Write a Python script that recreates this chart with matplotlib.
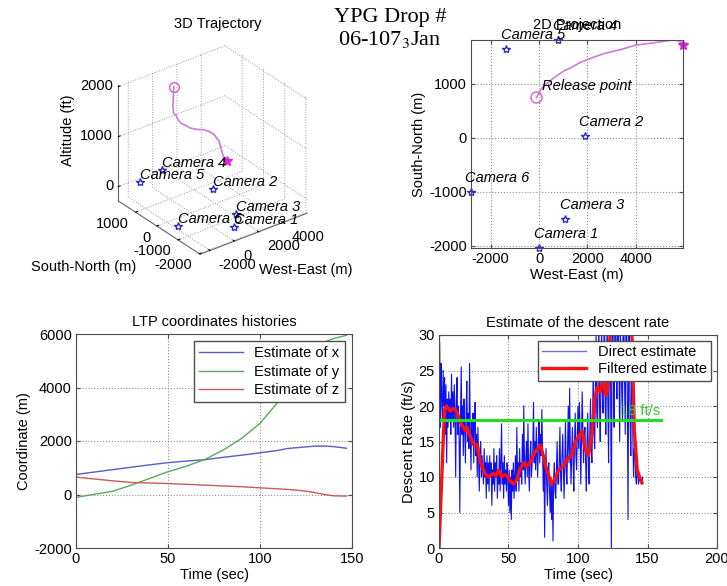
#
# YPG drop 06-107 (3 Jan): trajectory and descent rate summary plot.
# Four panels, laid out the way the old MATLAB figure was.
#

import matplotlib
matplotlib.use('Agg')
import matplotlib.pyplot as plt
import numpy as np


#######################################################################

# LTP coordinate histories (m), read every 10 s or so.
t_ltp = [0, 10, 20, 30, 40, 50, 60, 70, 80, 90, 100, 110, 115, 120,
         125, 130, 135, 140, 147]
x_est = [750, 840, 930, 1020, 1110, 1190, 1250, 1300, 1390, 1470, 1560,
         1650, 1720, 1750, 1780, 1810, 1810, 1790, 1730]
y_est = [-110, 10, 120, 350, 600, 850, 1060, 1310, 1660, 2100, 2660,
         3475, 3975, 4540, 5000, 5450, 5700, 5830, 5950]
z_est = [650, 580, 510, 450, 430, 410, 380, 350, 320, 290, 250, 210,
         190, 160, 125, 70, 0, -50, -60]

# Camera positions (m): West-East, South-North.
cam_names = ['Camera 1', 'Camera 2', 'Camera 3', 'Camera 4',
             'Camera 5', 'Camera 6']
cam_we = [0, 1900, 1077, 787, -1366, -2816]
cam_sn = [-2040, 40, -1500, 1815, 1648, -1000]

# Descent rate (ft/s): direct estimate, two samples per second.
rate_direct = [
    20, 29, 17, 26, 21, 18, 25, 20, 24, 16,
    23, 12, 21, 17, 22, 18, 21, 16, 24.5, 18,
    22, 17, 23, 19, 10, 21, 24, 16, 20, 15,
    5, 19, 25.5, 16, 20, 13, 21, 17, 12, 19,
    23.5, 15, 19, 14, 26, 16, 11, 18, 15, 19,
    12, 17, 20.5, 13, 16, 10, 17, 12, 8, 14,
    15, 10, 13, 11, 9, 14, 10, 12, 7, 13,
    9, 12, 8, 13, 10, 12, 6, 11, 9, 14,
    8, 12, 10, 13, 7, 11, 9, 14, 8, 12,
    17.5, 9, 12, 7, 13, 9, 11, 8, 12, 10,
    6, 11, 5, 10, 4, 11, 8, 12, 7, 10,
    13, 8, 17, 10, 12, 8, 14, 10, 12, 9,
    16, 11, 20, 12, 9, 13, 15, 10, 17.5, 11,
    8, 13, 15, 10, 12, 14, 20.5, 12, 15, 11,
    17, 13, 10, 15, 18, 12, 16, 13, 19.5, 14,
    8, 13, 1.5, 11, 14, 9, 6, 11, 12, 8,
    5, 10, 4, 9, 1, 10, 12, 8, 7, 11,
    15, 9, 9, 12, 17, 10, 8, 13, 16, 11,
    7, 12, 18, 11, 9, 14, 20, 12, 22.5, 13,
    9, 14, 17, 12, 8, 15, 19, 13, 11, 16,
    20, 14, 20.5, 16, 9, 15, 22, 17, 12, 16,
    17, 12, 8, 15, 19, 13, 9, 16, 21, 14,
    12, 18, 26, 16, 14, 22, 30, 19, 17, 25,
    32, 20, 15, 24, 31, 22, 19, 26, 34, 21,
    16, 24, 33, 20, 12, 27, 31, 22, 0, 30,
    35, 24, 17, 32, 34, 26, 21, 33, 33, 25,
    15, 30, 28, 22, 18, 34, 31, 24, 16, 33,
    32, 20, 4, 30, 30, 18, 13, 24, 24, 15,
    10, 14, 14, 10, 9, 11, 11, 9, 9.5, 10,
    10, 9, 9, 10]
t_direct = np.arange(len(rate_direct)) * 0.5

# Filtered descent rate (ft/s).
filt_t = [0, 1, 2, 3, 4, 5.5, 8, 10, 11.5, 13, 16, 19, 20, 22, 25, 27,
          30, 33, 35.5, 39, 41, 43, 45, 47, 49, 51, 53.5, 56, 58, 61,
          63, 65.5, 69, 73, 75, 77.5, 81, 83.5, 86, 89.5, 92, 95.5, 98,
          100, 103, 105, 107.5, 110, 112, 114, 116, 118, 120, 121.5,
          123, 124, 128, 133, 137, 139, 140.5, 142.6, 145, 146]
filt_v = [0, 5, 10, 15, 19.5, 20, 19.3, 19.6, 19.6, 19, 17.5, 16.5, 17,
          16, 14.5, 14.6, 12, 10.5, 10, 10.5, 10.2, 11, 10, 10.3, 10.2,
          9.5, 9, 9.6, 11, 12, 11.5, 12, 13.5, 14.5, 13, 11, 9, 9.8, 11,
          11.5, 12.5, 13, 15, 15.5, 16.5, 14, 13, 16, 21, 22.7, 22, 23.5,
          21.5, 22.5, 30, 38, 45, 42, 36, 29, 16.6, 11, 9.6, 9.2]

target_rate = 18

# Tick values.
we_ticks = [-2000, 0, 2000, 4000]
sn_ticks = [-2000, -1000, 0, 1000]
alt_ticks = [0, 1000, 2000]


#######################################################################

plt.rcParams['font.family'] = 'Liberation Sans'
plt.rcParams['font.size'] = 10.5
plt.rcParams['axes.unicode_minus'] = False
plt.rcParams['grid.linestyle'] = ':'
plt.rcParams['grid.color'] = '0.55'
plt.rcParams['grid.linewidth'] = 0.8
plt.rcParams['xtick.direction'] = 'in'
plt.rcParams['ytick.direction'] = 'in'
plt.rcParams['xtick.top'] = True
plt.rcParams['ytick.right'] = True
plt.rcParams['axes.edgecolor'] = '0.3'
plt.rcParams['axes.linewidth'] = 0.8

W, H = 727, 586
fig = plt.figure(figsize=(W / 100, H / 100), dpi=100)


def rect(left, top, right, bottom):
    # axes rectangle from pixel edges
    return [left / W, 1 - bottom / H, (right - left) / W, (bottom - top) / H]


def matlab_look(ax):
    ax.grid(True)
    ax.tick_params(length=3, pad=3, color='0.3')
    ax.set_axisbelow(True)


# Altitude in ft above the drop zone.
alt_ft = np.array(z_est) * 3.28 - 90

#######################################################################
# 3D trajectory

ax3 = fig.add_axes(rect(77, 39, 342, 265), projection='3d')
ax3.set_proj_type('ortho')
ax3.view_init(elev=30, azim=-127.5)
ax3.set_box_aspect((1, 1, 1))

ax3.plot(y_est, x_est, alt_ft, color='#d27ad6', lw=1.2)
ax3.plot([y_est[0]], [x_est[0]], [alt_ft[0]], 'o', mfc='none',
         mec='#d060d0', ms=7)
ax3.plot([y_est[-1]], [x_est[-1]], [alt_ft[-1]], '*', color='#e020e0', ms=7)
ax3.plot(cam_we, cam_sn, np.zeros(len(cam_we)), '*', mfc='none',
         mec='#3030c0', ms=6, ls='none')
for name, cx, cy in zip(cam_names, cam_we, cam_sn):
    ax3.text(cx, cy, 0, name, style='italic', ha='left', va='bottom',
             fontsize=10.5)

x0, x1 = min(cam_we), max(y_est)
y0, y1 = min(cam_sn), max(cam_sn)
z0, z1 = alt_ft.min(), alt_ft.max()
ax3.set_xlim(x0, x1)
ax3.set_ylim(y0, y1)
ax3.set_zlim(z0, z1)
ax3.set_xticks(we_ticks)
ax3.set_yticks(sn_ticks)
ax3.set_zticks(alt_ticks)
for axis in (ax3.xaxis, ax3.yaxis, ax3.zaxis):
    axis.set_pane_color((1, 1, 1, 0))
    axis.line.set_color('0.4')
    axis._axinfo['grid'].update(color='0.6', linestyle=':', linewidth=0.7)
    axis._axinfo['tick'].update(inward_factor=0.0, outward_factor=0.2)
    axis.set_major_formatter(plt.NullFormatter())
    axis.set_tick_params(labelbottom=False)

# MATLAB style tick labels, set just off the box edges.
for v in we_ticks:
    ax3.text(v, y0 - 400, z0 - 40, str(v), ha='left', va='top')
for v in sn_ticks:
    ax3.text(x0 - 550, v, z0 - 40, str(v), ha='right', va='top')
for v in alt_ticks:
    ax3.text(x0 - 250, y1 + 100, v, str(v), ha='right', va='center')

fig.text(218 / W, 1 - 24 / H, '3D Trajectory', ha='center', va='center')
fig.text(68 / W, 1 - 130 / H, 'Altitude (ft)', ha='center', va='center',
         rotation=90)
fig.text(84 / W, 1 - 267 / H, 'South-North (m)', ha='center', va='center')
fig.text(306 / W, 1 - 270 / H, 'West-East (m)', ha='center', va='center')

#######################################################################
# 2D projection

ax2 = fig.add_axes(rect(471, 40, 683, 248))
matlab_look(ax2)
ax2.plot(y_est, x_est, color='#d27ad6', lw=1.2)
ax2.plot(y_est[0], x_est[0], 'o', mfc='none', mec='#d060d0', ms=8)
ax2.plot(y_est[-1], x_est[-1], '*', color='#e020e0', ms=7, clip_on=False)
ax2.plot(cam_we, cam_sn, '*', mfc='none', mec='#3030c0', ms=6, ls='none',
         clip_on=False)
for name, cx, cy in zip(cam_names, cam_we, cam_sn):
    ax2.annotate(name, (cx, cy), xytext=(-4, 5), textcoords='offset points',
                 style='italic', ha='left', va='bottom',
                 annotation_clip=False)
ax2.annotate('Release point', (y_est[0], x_est[0]), xytext=(4, 3),
             textcoords='offset points', style='italic', ha='left',
             va='bottom')
ax2.set_xlim(min(cam_we), max(y_est))
ax2.set_ylim(min(cam_sn), max(cam_sn))
ax2.set_xticks(we_ticks)
ax2.set_yticks(sn_ticks)
ax2.set_xlabel('West-East (m)', labelpad=1)
ax2.set_ylabel('South-North (m)', labelpad=2)
ax2.set_title('2D Projection', fontsize=10.5, pad=8)

#######################################################################
# LTP coordinate histories

ax4 = fig.add_axes(rect(76, 334, 352, 548))
matlab_look(ax4)
ax4.plot(t_ltp, x_est, color='#5a5ac8', lw=1, label='Estimate of x')
ax4.plot(t_ltp, y_est, color='#5aa85a', lw=1, label='Estimate of y')
ax4.plot(t_ltp, z_est, color='#c85a5a', lw=1, label='Estimate of z')
ax4.set_xlim(0, 150)
ax4.set_ylim(-2000, 6000)
ax4.set_xticks([0, 50, 100, 150])
ax4.set_yticks([-2000, 0, 2000, 4000, 6000])
ax4.set_xlabel('Time (sec)', labelpad=1)
ax4.set_ylabel('Coordinate (m)', labelpad=2)
ax4.set_title('LTP coordinates histories', fontsize=10.5, pad=6)
ax4.legend(loc='upper right', fancybox=False, edgecolor='0.3',
           framealpha=1, handlelength=3.0, borderaxespad=0.5,
           labelspacing=0.3, borderpad=0.35)

#######################################################################
# Descent rate

ax5 = fig.add_axes(rect(439, 335, 717, 548))
matlab_look(ax5)
ax5.plot(t_direct, rate_direct, color='#1010f0', lw=0.8,
         label='Direct estimate')
ax5.plot(filt_t, filt_v, color='#ff1010', lw=2.4, label='Filtered estimate')
ax5.plot([0, 160], [target_rate, target_rate], color='#22dd22', lw=2.2)
ax5.text(145, target_rate + 0.3, '18 ft/s', color='#33cc33', ha='center',
         va='bottom')
ax5.set_xlim(0, 200)
ax5.set_ylim(0, 30)
ax5.set_xticks([0, 50, 100, 150, 200])
ax5.set_yticks([0, 5, 10, 15, 20, 25, 30])
ax5.set_xlabel('Time (sec)', labelpad=1)
ax5.set_ylabel('Descent Rate (ft/s)', labelpad=2)
ax5.set_title('Estimate of the descent rate', fontsize=10.5, pad=6)
leg = ax5.legend(loc='upper right', fancybox=False, edgecolor='0.3',
                 framealpha=1, handlelength=3.0, borderaxespad=0.4,
                 labelspacing=0.2, borderpad=0.3)
leg.get_lines()[0].set_color('#7070d0')
leg.get_lines()[0].set_linewidth(1)

#######################################################################
# Figure title

fig.text(390 / W, 1 - 29 / H, 'YPG Drop #\n06-107$_3$Jan', ha='center',
         va='center', family='Liberation Serif', fontsize=16,
         linespacing=1.15, math_fontfamily='stix')

fig.savefig('out.png', dpi=100)
